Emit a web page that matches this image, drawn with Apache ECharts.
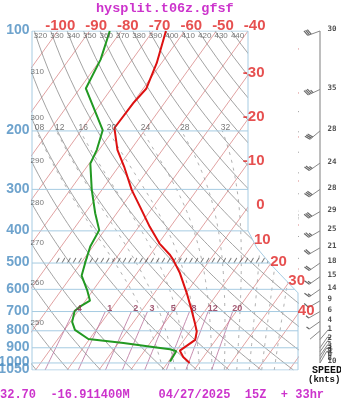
<!DOCTYPE html>
<html><head><meta charset="utf-8">
<script src="https://cdn.jsdelivr.net/npm/echarts@6/dist/echarts.min.js"></script>
<style>html,body{margin:0;padding:0;background:#fff}#c{width:341px;height:400px}</style>
</head><body><div id="c"></div>
<script>
// ---------------- data ----------------
const tempPressure = [100,125,149,165,196,228,256,301,338,389,437,473,489,536,617,693,760,804,852,918,959,1000];
const tempValues   = [-65.9,-61.5,-59.0,-59.8,-60.1,-54.2,-48.3,-40.6,-34.2,-26.5,-19.6,-13.7,-11.6,-6.5,0.3,5.6,9.7,12.1,13.5,11.1,13.6,17.0];
const dewPressure  = [100,122,149,199,228,251,301,354,398,446,489,546,603,649,677,697,752,795,847,871,901,909,922,990];
const dewValues    = [-83.6,-80.0,-78.1,-63.3,-60.7,-59.6,-53.2,-46.8,-41.7,-40.8,-39.1,-36.9,-31.9,-28.6,-30.4,-31.1,-29.4,-26.7,-20.4,-8.4,4.3,7.7,10.1,10.5];
const windPressure = [100,150,200,250,300,350,400,450,500,550,600,650,700,750,800,850,900,925,950,975,1000];
const windSpeed    = [30,35,28,24,28,29,25,21,18,15,14,9,6,4,1,2,3,4,6,8,10];
const windDir      = [250,245,230,235,235,240,240,240,235,235,235,240,240,235,230,40,35,35,35,30,30];
const pressureLabels = [100,200,300,400,500,600,700,800,900,1000,1050];
const topTempLabels  = [-100,-90,-80,-70,-60,-50,-40];
const sideTempLabels = [-30,-20,-10,0,10,20,30,40];
const isotherms   = [-100,-90,-80,-70,-60,-50,-40,-30,-20,-10,0,10,20,30,40,50];
const dryThetas   = [240,250,260,270,280,290,300,310,320,330,340,350,360,370,380,390,400,410,420,430,440];
const leftThetaLabels = [250,260,270,280,290,300,310];
const topThetaLabels  = [320,330,340,350,360,370,380,390,400,410,420,430,440];
const moistThetaW = [8,12,16,20,24,28,32,36,40,44];
const moistLabels = ['08','12','16','20','24','28','32'];
const mixRatios   = [0.4,1,2,3,5,8,12,20];
const mixLabels   = ['.4','1','2','3','5','8','12','20'];
const titleText  = 'hysplit.t06z.gfsf';
const footerText = '32.70  -16.911400M    04/27/2025  15Z  + 33hr';

// ---------------- diagram geometry (skew-T) ----------------
const K = 32.75;              // skew: deg C per unit ln(p)
const XMIN = -108.14, XMAX = -24.23;
const skewX = (T, p) => T + K * Math.log(100 / p);
// right boundary of the diagram area [skewed X, p]
const boundary = [[-40,100],[-40,400],[-37.2,450],[-33.2,500],[-29.9,540],[XMAX,615],[XMAX,1050]];
function boundaryX(p) {
  for (let i = 0; i < boundary.length - 1; i++) {
    const a = boundary[i], b = boundary[i+1];
    if (p >= a[1] && p <= b[1]) {
      const f = (Math.log(p) - Math.log(a[1])) / (Math.log(b[1]) - Math.log(a[1]));
      return a[0] + f * (b[0] - a[0]);
    }
  }
  return XMAX;
}
function bisect(f, lo, hi) {
  let flo = f(lo);
  for (let i = 0; i < 60; i++) {
    const mid = Math.sqrt(lo * hi), fm = f(mid);
    if ((fm > 0) === (flo > 0)) { lo = mid; flo = fm; } else hi = mid;
  }
  return Math.sqrt(lo * hi);
}
const thetaT = (th, p) => th * Math.pow(p / 1000, 0.2857) - 273.15;
function satDTdp(T, p) {
  const Tc = T - 273.15;
  const es = 6.112 * Math.exp(17.67 * Tc / (Tc + 243.5));
  const rs = 0.622 * es / (p - es);
  const num = 287.04 * T + 2.501e6 * rs;
  const den = 1005.7 + (2.501e6 * 2.501e6 * rs * 0.622) / (287.04 * T * T);
  return num / den / p;
}
function rk(T, p, dp) {
  const k1 = satDTdp(T, p), k2 = satDTdp(T + k1*dp/2, p + dp/2);
  const k3 = satDTdp(T + k2*dp/2, p + dp/2), k4 = satDTdp(T + k3*dp, p + dp);
  return T + dp * (k1 + 2*k2 + 2*k3 + k4) / 6;
}
function moistLine(tw) {
  let T = tw + 273.15, p = 1000;
  while (p < 1050) { T = rk(T, p, 5); p += 5; }
  const pts = [];
  while (p >= 200) { pts.push([skewX(T - 273.15, p), p]); T = rk(T, p, -5); p -= 5; }
  return pts;
}
function mixTd(w, p) {
  const e = w * p / (622 + w), l = Math.log(e / 6.112);
  return 243.5 * l / (17.67 - l);
}

// ---------------- series ----------------
const series = [];
function addLine(data, color, width, type, z, extra) {
  series.push(Object.assign({
    type: 'line', data, symbol: 'none', silent: true, animation: false, clip: true, z,
    lineStyle: { color, width, type: type || 'solid' }, xAxisIndex: 0, yAxisIndex: 0
  }, extra || {}));
}
isotherms.forEach(T => addLine([[skewX(T,100),100],[skewX(T,1050),1050]], '#d98a8a', 0.8, 'solid', 1));
dryThetas.forEach(th => {
  const d = [];
  for (let p = 100; p <= 1050; p += 10) d.push([skewX(thetaT(th, p), p), p]);
  addLine(d, '#8c8c8c', 0.8, 'solid', 1);
});
moistThetaW.forEach(tw => addLine(moistLine(tw), '#9a9a9a', 0.8, [3,5], 1));
mixRatios.forEach(w => {
  const d = [];
  for (let p = 1050; p >= 700; p -= 25) d.push([skewX(mixTd(w, p), p), p]);
  addLine(d, '#b8709a', 0.8, 'solid', 1);
});
// hatch marks along 500 hPa
const hatch = [];
for (let X = -100; X <= -31; X += 1.75) hatch.push([X, 500]);
series.push({ type: 'scatter', data: hatch, symbol: 'path://M0,10L6,0', symbolSize: [3,5], symbolOffset: [0,-2.5],
  itemStyle: { color: 'rgba(0,0,0,0)', borderColor: '#555', borderWidth: 1 }, silent: true, animation: false, z: 2 });
// white mask outside the diagram area
const maskPts = [[-40,100],[XMAX,100],[XMAX,615],[-29.9,540],[-33.2,500],[-37.2,450],[-40,400]];
series.push({ type: 'custom', xAxisIndex: 0, yAxisIndex: 0, data: [[-60, 300]], z: 3, silent: true, animation: false, clip: false,
  renderItem: (params, api) => ({ type: 'polygon', shape: { points: maskPts.map(pt => api.coord(pt)) }, style: { fill: '#fff' } }) });
// isobars & frame
const isoBlue = '#a6cbe2';
pressureLabels.forEach(p => addLine([[XMIN,p],[boundaryX(p),p]], isoBlue, 1, 'solid', 4));
addLine([[XMIN,100],[XMIN,1050]], isoBlue, 1, 'solid', 4);
addLine(boundary, isoBlue, 1, 'solid', 4);
// profiles
addLine(tempPressure.map((p,i) => [skewX(tempValues[i], p), p]), '#dd1111', 2, 'solid', 6);
addLine(dewPressure.map((p,i) => [skewX(dewValues[i], p), p]), '#229922', 2, 'solid', 6);

// text labels through a scatter series
function textSeries(items, xi, yi) {
  series.push({ type: 'scatter', xAxisIndex: xi || 0, yAxisIndex: yi || 0, symbolSize: 1, silent: true, animation: false, z: 8,
    itemStyle: { color: 'rgba(0,0,0,0)' },
    data: items.map(it => ({ name: it.text, value: it.value,
      label: Object.assign({ show: true, formatter: '{b}', position: it.pos, align: it.align || 'left', verticalAlign: 'middle' }, it.style) })) });
}
const fPress = { fontFamily: 'Liberation Sans', fontSize: 14, fontWeight: 'bold', color: '#4a8cc0' };
textSeries(pressureLabels.map(p => ({ text: String(p), value: [XMIN, p], pos: [-2, 0], align: 'right', style: fPress })));
const fRed = { fontFamily: 'Liberation Sans', fontSize: 15, fontWeight: 'bold', color: '#e02424' };
textSeries(topTempLabels.map(T => ({ text: String(T), value: [T, 100], pos: [18, -4.5], align: 'right', style: fRed })));
textSeries(sideTempLabels.map(T => {
  const p = bisect(pp => skewX(T, pp) - boundaryX(pp), 100, 1050);
  return { text: String(T), value: [boundaryX(p), p], pos: [17, -2], align: 'right', style: fRed };
}));
const fGray = { fontFamily: 'Liberation Sans', fontSize: 8, color: '#555' };
textSeries(topThetaLabels.map(th => ({ text: String(th), value: [skewX(thetaT(th,100),100), 100], pos: [0, 5], style: fGray })));
textSeries(leftThetaLabels.map(th => {
  const p = bisect(pp => skewX(thetaT(th, pp), pp) - XMIN, 100, 1050);
  return { text: String(th), value: [XMIN, p], pos: [-1, -1], style: fGray };
}));
const fMoist = { fontFamily: 'Liberation Sans', fontSize: 8.5, color: '#555' };
textSeries(moistLabels.map((t, i) => {
  const line = moistLine(moistThetaW[i]);
  return { text: t, value: line[line.length - 1], pos: [-1, -3], style: fMoist };
}));
const fMix = { fontFamily: 'Liberation Sans', fontSize: 9, fontWeight: 'bold', color: '#8a3050' };
textSeries(mixRatios.map((w, i) => ({ text: mixLabels[i], value: [skewX(mixTd(w,700),700), 700], pos: [5, -2.5], align: 'center', style: fMix })));

// ---------------- wind column (second grid) ----------------
series.push({ type: 'line', xAxisIndex: 1, yAxisIndex: 1, data: [[20,100],[20,1000]], symbol: 'none', silent: true, animation: false,
  lineStyle: { color: '#a8a8a8', width: 1.5 }, z: 4 });
series.push({ type: 'custom', xAxisIndex: 1, yAxisIndex: 1, clip: false, silent: true, animation: false, z: 5,
  data: windPressure.map((p, i) => [20, p, windSpeed[i], windDir[i]]),
  renderItem: (params, api) => {
    const o = api.coord([20, api.value(1)]);
    const spd = api.value(2), rad = api.value(3) * Math.PI / 180;
    const dx = Math.sin(rad), dy = -Math.cos(rad), L = 13;
    const tip = [o[0] + dx*L, o[1] + dy*L];
    const ch = [{ type: 'line', shape: { x1: o[0], y1: o[1], x2: tip[0], y2: tip[1] }, style: { stroke: '#888', lineWidth: 1 } }];
    let s = Math.round(spd / 5) * 5, pos = 0;
    const px = -dy, py = dx;
    while (s > 0) {
      const len = s >= 10 ? 6 : 3.5;
      const b = [tip[0] - dx*pos, tip[1] - dy*pos];
      ch.push({ type: 'line', shape: { x1: b[0], y1: b[1], x2: b[0] + len*(px*0.94 + dx*0.34), y2: b[1] + len*(py*0.94 + dy*0.34) },
        style: { stroke: '#666', lineWidth: 1.2 } });
      s -= s >= 10 ? 10 : 5; pos += 1.8;
    }
    return { type: 'group', children: ch };
  } });
const fWind = { fontFamily: 'DejaVu Sans Mono', fontSize: 7.5, fontWeight: 'bold', color: '#222' };
textSeries(windPressure.map((p, i) => ({ text: String(windSpeed[i]), value: [28, p], pos: [0, -1], style: fWind })), 1, 1);

const option = {
  animation: false,
  backgroundColor: '#fff',
  title: [
    { text: titleText, left: 96, top: 2, padding: 0,
      textStyle: { fontFamily: 'Liberation Mono', fontWeight: 'bold', fontSize: 13.5, color: '#cc33cc' } },
    { text: footerText, left: 0, top: 389, padding: 0,
      textStyle: { fontFamily: 'Liberation Mono', fontWeight: 'bold', fontSize: 12, color: '#cc33cc' } },
    { text: 'SPEED', left: 312, top: 365, padding: 0,
      textStyle: { fontFamily: 'Liberation Mono', fontWeight: 'bold', fontSize: 10, color: '#111' } },
    { text: '(knts)', left: 308, top: 375, padding: 0,
      textStyle: { fontFamily: 'Liberation Mono', fontWeight: 'bold', fontSize: 9, color: '#111' } }
  ],
  grid: [
    { left: 32, top: 31, width: 266, height: 339 },
    { left: 300, top: 31, width: 40, height: 339 }
  ],
  xAxis: [
    { type: 'value', min: XMIN, max: XMAX, show: false, gridIndex: 0 },
    { type: 'value', min: 0, max: 40, show: false, gridIndex: 1 }
  ],
  yAxis: [
    { type: 'log', logBase: 10, min: 100, max: 1050, inverse: true, show: false, gridIndex: 0 },
    { type: 'log', logBase: 10, min: 100, max: 1050, inverse: true, show: false, gridIndex: 1 }
  ],
  series
};
echarts.init(document.getElementById('c'), null, { renderer: 'canvas' }).setOption(option);
</script></body></html>
